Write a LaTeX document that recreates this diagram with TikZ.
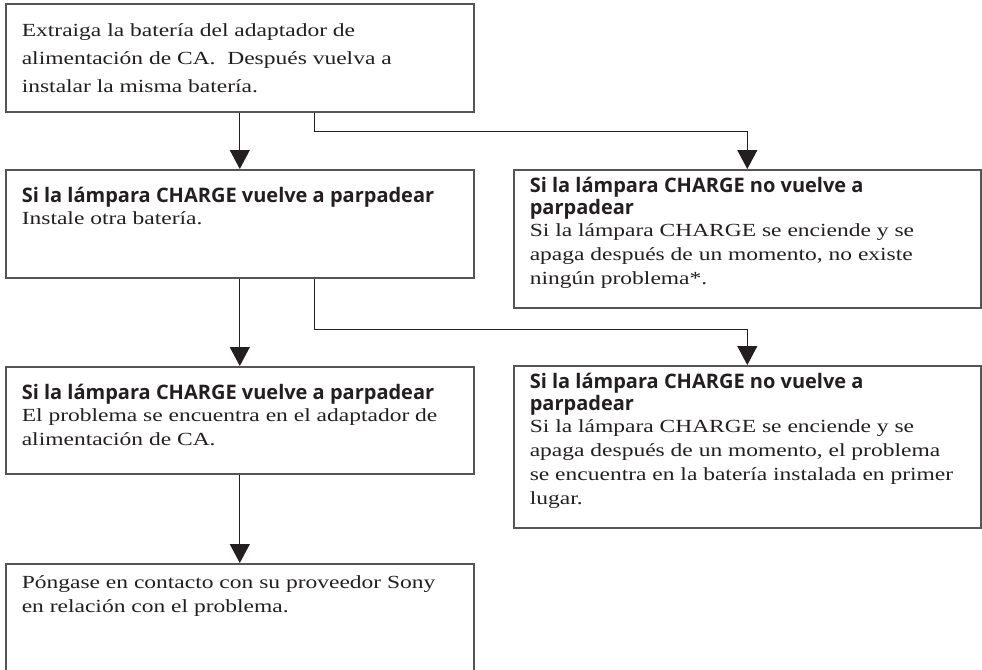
\documentclass[tikz,border=0pt]{standalone}
\usepackage{fontspec}
\setmainfont{Liberation Serif}[FakeStretch=1.27]
\newfontfamily\headfont{Open Sans}
\usetikzlibrary{arrows.meta, positioning}
\definecolor{framegray}{RGB}{85,85,85}
\definecolor{inkblack}{RGB}{35,31,32}
\tikzset{
  cbox/.style  = {draw=framegray, line width=1.6pt, anchor=north west,
                  inner xsep=16pt, inner ysep=0pt, align=left},
  arrow/.style = {-{Triangle[width=20pt,length=19pt]}, line width=1.1pt, color=inkblack},
}
% box contents: height, width, first baseline, text
\newcommand{\cellbox}[4]{\parbox[c][#1][t]{#2}{\raggedright\rule{0pt}{#3}#4}}
\newcommand{\hd}[1]{{\headfont\bfseries\fontsize{20}{24}\selectfont #1}}

\begin{document}
\begin{tikzpicture}[x=1pt, y=-1pt,
    every node/.style={font=\fontsize{18.5}{24}\selectfont, text=inkblack}]
  \path[use as bounding box] (0,0) rectangle (982,669);
  \clip (0,0) rectangle (982,669);
  % left column
  \node[cbox] (start) at (5,3) {\cellbox{108pt}{436pt}{33pt}{%
    \fontsize{18.5}{28}\selectfont
    Extraiga la batería del adaptador de\\
    alimentación de CA.\ \ Después vuelva a\\
    instalar la misma batería.}};
  \node[cbox] (again1) at (5,169) {\cellbox{108pt}{436pt}{33pt}{%
    \hd{Si la lámpara CHARGE vuelve a parpadear}\\[-2pt]
    Instale otra batería.}};
  \node[cbox] (again2) at (5,366) {\cellbox{107pt}{436pt}{33pt}{%
    \hd{Si la lámpara CHARGE vuelve a parpadear}\\[-2pt]
    El problema se encuentra en el adaptador de\\
    alimentación de CA.}};
  \node[cbox] (contact) at (5,563) {\cellbox{140pt}{436pt}{25pt}{%
    Póngase en contacto con su proveedor Sony\\
    en relación con el problema.}};
  % right column
  \node[cbox] (ok1) at (513,169) {\cellbox{138pt}{435pt}{23pt}{%
    \hd{Si la lámpara CHARGE no vuelve a}\\[-2pt]
    \hd{parpadear}\\[-2pt]
    Si la lámpara CHARGE se enciende y se\\
    apaga después de un momento, no existe\\
    ningún problema*.}};
  \node[cbox] (ok2) at (513,365) {\cellbox{162pt}{435pt}{23pt}{%
    \hd{Si la lámpara CHARGE no vuelve a}\\[-2pt]
    \hd{parpadear}\\[-2pt]
    Si la lámpara CHARGE se enciende y se\\
    apaga después de un momento, el problema\\
    se encuentra en la batería instalada en primer\\
    lugar.}};
  % connectors
  \draw[arrow] (start.south) -- (again1.north);
  \draw[arrow] ([xshift=75pt]start.south) -- ++(0,19) -| (ok1.north);
  \draw[arrow] (again1.south) -- (again2.north);
  \draw[arrow] ([xshift=75pt]again1.south) -- ++(0,51) -| (ok2.north);
  \draw[arrow] (again2.south) -- (contact.north);
\end{tikzpicture}
\end{document}
